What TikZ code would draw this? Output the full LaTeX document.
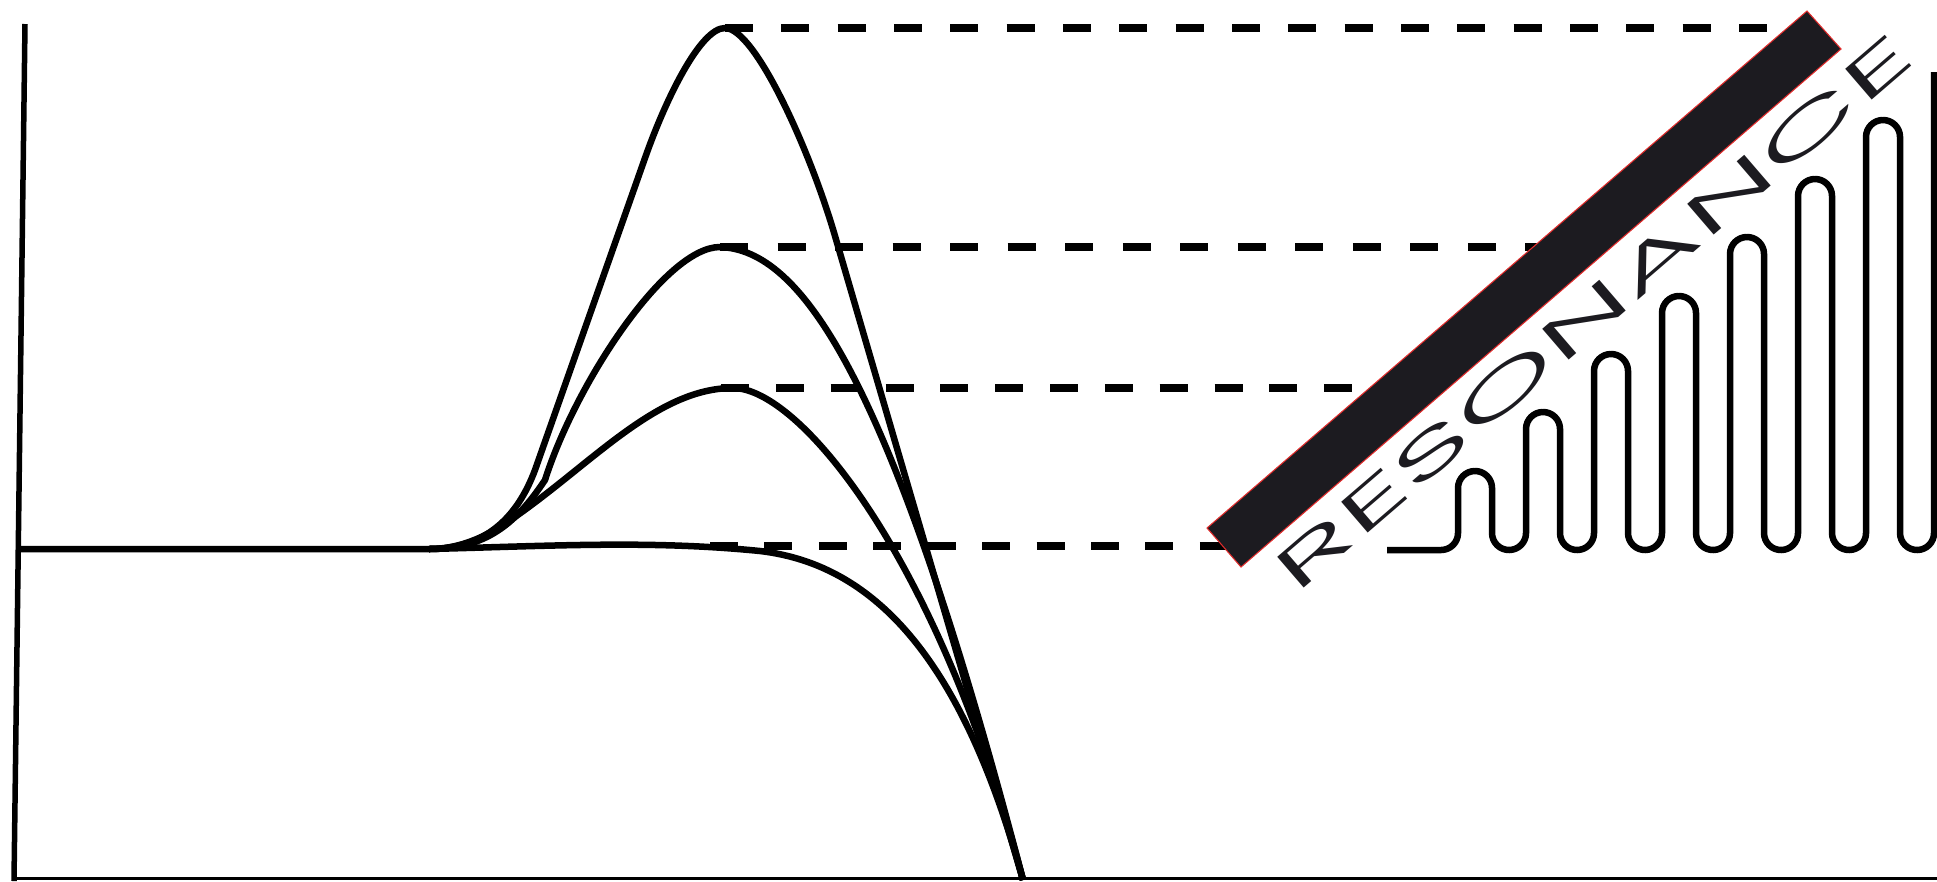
\documentclass[tikz,border=0pt]{standalone}
\usepackage{fontspec}
\usepackage{graphicx}
\usepackage{tikz}
\usetikzlibrary{calc}
\IfFontExistsTF{Poppins Light}{\newfontfamily\resfont{Poppins Light}}{\newfontfamily\resfont{Poppins}}
\definecolor{mydark}{RGB}{28,27,32}
\definecolor{myedge}{RGB}{225,45,45}
\tikzset{
  curve/.style={line width=0.065cm, color=black, line join=round},
  guide/.style={line width=0.072cm, color=black, dash pattern=on 0.28cm off #1},
  guide/.default=0.28cm,
  axis/.style={line width=0.055cm, color=black}
}

\begin{document}
\begin{tikzpicture}[x=0.01cm, y=-0.01cm,
  meander/.style={line width=0.065cm, color=black, rounded corners=0.17cm},
  bar/.style={fill=mydark, draw=myedge, line width=0.3pt},
  reslabel/.style={rotate=40.7, anchor=base west, inner sep=0pt, text=mydark}]

  \useasboundingbox (0,0) rectangle (1937,881);

  % Axes
  \draw[axis] (25,24) -- (14,881);
  \draw[line width=0.03cm] (14,878) -- (1937,878);

  % Peaks and end point
  \coordinate (foot) at (429,549);
  \coordinate (peakA) at (725,28);
  \coordinate (peakB) at (720,247);
  \coordinate (peakC) at (733,388);
  \coordinate (peakD) at (710,546);
  \coordinate (tip) at (1023,880);

  % Dashed levels
  \draw[guide=0.283cm] (peakA) -- (1818,28);
  \draw[guide=0.295cm] (peakB) -- (1555,247);
  \draw[guide=0.268cm] (721,388) -- (1409,388);
  \draw[guide=0.264cm] (peakD) -- (1228,546);

  % Pulses
  \draw[curve] (20,549) -- (foot)
    .. controls (550,546) and (650,540) .. (760,551)
    .. controls (880,565) and (965,668) .. (tip);
  \draw[curve] (foot) .. controls (457,549) and (480,539) .. (500,527)
    .. controls (585,472) and (653,388) .. (peakC)
    .. controls (800,388) and (940,560) .. (tip);
  \draw[curve] (foot) .. controls (485,549) and (515,525) .. (545,480)
    .. controls (575,385) and (665,247) .. (peakB)
    .. controls (800,250) and (890,370) .. (tip);
  \draw[curve] (foot) .. controls (485,549) and (517,518) .. (535,470)
    -- (645,158) .. controls (665,101) and (700,28) .. (peakA)
    .. controls (755,28) and (810,150) .. (835,236) -- (tip);

  % Bar and label
  \draw[bar] (1207,528) -- (1807,11) -- (1841,49) -- (1241,567) -- cycle;
  \node[reslabel] (res) at (1295,596) {\resizebox{8.2cm}{0.41cm}{\resfont RESONANCE}};

  % Meander line
  \draw[meander] (1387,550) -- (1458,550) -- (1458,471) -- (1492,471) -- (1492,550)
    -- (1526,550) -- (1526,412) -- (1560,412) -- (1560,550)
    -- (1594,550) -- (1594,354) -- (1628,354) -- (1628,550)
    -- (1662,550) -- (1662,296) -- (1696,296) -- (1696,550)
    -- (1730,550) -- (1730,237) -- (1764,237) -- (1764,550)
    -- (1798,550) -- (1798,179) -- (1832,179) -- (1832,550)
    -- (1866,550) -- (1866,120) -- (1900,120) -- (1900,550)
    -- (1934,550) -- (1934,72);

\end{tikzpicture}
\end{document}
